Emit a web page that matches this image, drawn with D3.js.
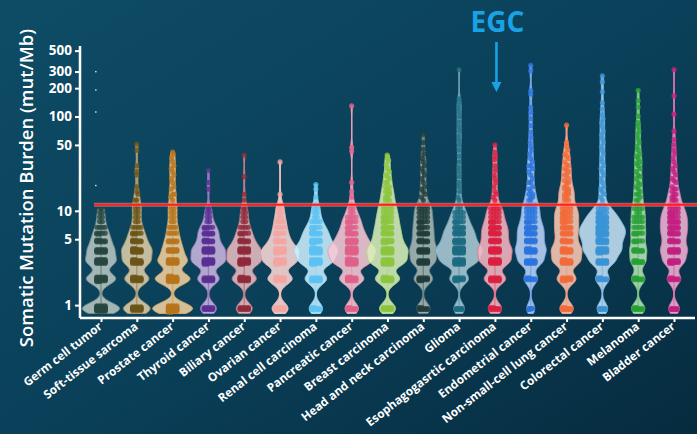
<!DOCTYPE html>
<html>
<head>
<meta charset="utf-8">
<script src="https://cdn.jsdelivr.net/npm/d3@7"></script>
<style>
html, body { margin: 0; padding: 0; background: #073a52; }
svg { display: block; font-family: "Open Sans", sans-serif; }
</style>
</head>
<body>
<svg id="chart" width="697" height="434"></svg>
<script>
// cancer types, left to right
const categories = [
  "Germ cell tumor", "Soft-tissue sarcoma", "Prostate cancer", "Thyroid cancer",
  "Biliary cancer", "Ovarian cancer", "Renal cell carcinoma", "Pancreatic cancer",
  "Breast carcinoma", "Head and neck carcinoma", "Glioma", "Esophagogasrtic carcinoma",
  "Endometrial cancer", "Non-small-cell lung cancer", "Colorectal cancer", "Melanoma", "Bladder cancer"
];
const pointColors = [
  "#27463f", "#6a5418", "#b7741c", "#5a2e92", "#8f2b3b", "#f2a6a2", "#5bc2f4", "#e0608a", "#8cc63f",
  "#213c3a", "#1b6b82", "#d91f40", "#2b74e0", "#f26a3a", "#3a94d6", "#25a035", "#c31f7f"
];
const fillColors = [
  "#b6c6c2", "#dccdaa", "#f0d0a0", "#c9b6df", "#e8bcc1", "#fad8d6", "#cbeefd", "#f7c8d5", "#d8eeb8",
  "#a9b8b6", "#abcad4", "#f4b6c2", "#b9d3f6", "#fbcab5", "#c5e0f4", "#bce2bb", "#edb6d5"
];

// discrete TMB levels (mut/Mb) for the low part of every distribution
const levels = [0.92, 1.9, 2.9, 3.8, 4.8, 5.8, 6.7, 7.7, 8.6, 9.6, 10.6, 11.5];

// number of samples at each level above, per cancer type
const lowCounts = [
  [28, 22, 20, 16, 10, 6, 4, 2, 2, 2, 2, 0],
  [20, 18, 18, 18, 10, 6, 4, 2, 2, 2, 2, 2],
  [30, 26, 20, 12, 8, 4, 4, 2, 2, 2, 2, 2],
  [12, 16, 22, 20, 10, 8, 6, 2, 2, 2, 2, 0],
  [12, 18, 22, 20, 10, 6, 4, 2, 2, 2, 2, 0],
  [12, 18, 22, 22, 10, 6, 4, 4, 2, 2, 2, 2],
  [10, 16, 22, 26, 14, 10, 6, 4, 2, 2, 2, 2],
  [10, 18, 26, 28, 16, 10, 6, 6, 4, 2, 2, 2],
  [12, 18, 24, 24, 14, 10, 8, 6, 6, 4, 4, 4],
  [10, 14, 16, 16, 10, 8, 6, 6, 4, 4, 4, 4],
  [8, 14, 24, 28, 16, 12, 8, 6, 4, 4, 2, 2],
  [10, 16, 20, 20, 12, 10, 8, 6, 4, 4, 4, 2],
  [6, 10, 16, 18, 12, 10, 8, 6, 4, 4, 4, 4],
  [10, 14, 18, 18, 10, 8, 8, 6, 6, 6, 4, 4],
  [8, 10, 16, 22, 18, 18, 14, 10, 8, 6, 4, 2],
  [10, 10, 10, 10, 6, 6, 4, 4, 4, 2, 4, 2],
  [8, 10, 14, 16, 10, 10, 8, 8, 6, 6, 4, 4]
];

// individual samples above 12 mut/Mb, per cancer type
const highValues = [
  [],
  [13, 13, 15, 16, 18, 24, 26, 30, 44, 51],
  [13, 14, 15, 15, 17, 18, 20, 22, 24, 26, 28, 30, 33, 36, 40, 42],
  [17, 20, 27],
  [13, 15, 23, 39],
  [15, 33],
  [14, 17, 19],
  [14, 16, 20, 43, 47, 130],
  [13, 13, 13, 14, 14, 15, 15, 16, 16, 17, 18, 18, 20, 20, 22, 23, 24, 26, 28, 31, 34, 36, 39],
  [13, 14, 15, 16, 17, 18, 20, 22, 24, 26, 28, 30, 33, 36, 40, 45, 53, 65],
  [13, 14, 16, 18, 20, 23, 26, 29, 33, 38, 44, 50, 56, 62, 70, 78, 88, 100, 112, 125, 140, 154, 315],
  [13, 14, 15, 16, 18, 20, 22, 24, 27, 30, 35, 38, 42, 50],
  [13, 13, 14, 14, 15, 15, 16, 17, 18, 20, 20, 22, 24, 26, 28, 30, 30, 33, 36, 40, 44, 48, 53, 60, 68, 80, 95, 110, 125, 173, 187, 305, 350],
  [13, 13, 13, 14, 14, 15, 15, 15, 16, 16, 17, 17, 18, 18, 20, 20, 21, 22, 24, 24, 26, 27, 28, 30, 31, 33, 36, 38, 40, 44, 48, 53, 81],
  [13, 14, 15, 16, 17, 18, 20, 22, 24, 26, 28, 30, 33, 36, 40, 44, 48, 53, 58, 64, 70, 78, 86, 95, 105, 120, 140, 183, 233, 270],
  [13, 13, 14, 15, 15, 16, 17, 18, 19, 20, 22, 23, 24, 26, 28, 30, 32, 33, 36, 38, 40, 44, 48, 53, 58, 64, 70, 78, 86, 101, 126, 147, 190],
  [13, 13, 13, 14, 14, 15, 15, 16, 17, 17, 18, 20, 21, 22, 24, 26, 28, 30, 33, 36, 40, 44, 50, 57, 70, 106, 166, 315]
];

const yTicks = [1, 5, 10, 50, 100, 200, 300, 500];
const thresholdValue = 11.6;
const strayMarks = [300, 192, 112, 18.6];

const svg = d3.select("#chart");
const W = 697, H = 434;

// background
const defs = svg.append("defs");
const grad = defs.append("linearGradient").attr("id", "bg")
  .attr("x1", "0").attr("y1", "0").attr("x2", "1").attr("y2", "1");
grad.append("stop").attr("offset", "0%").attr("stop-color", "#0e4c66");
grad.append("stop").attr("offset", "55%").attr("stop-color", "#0a3f58");
grad.append("stop").attr("offset", "100%").attr("stop-color", "#062b3f");
svg.append("rect").attr("width", W).attr("height", H).attr("fill", "url(#bg)");

const x = d3.scalePoint().domain(categories).range([101, 674]);
const y = d3.scaleLog().domain([0.73, 560]).range([318, 46]);

// violins (gaussian kernel on log10 values, common count scaling)
const bw = 0.06, K = 0.1;
const gauss = t => Math.exp(-0.5 * t * t) / (bw * Math.sqrt(2 * Math.PI));

categories.forEach((cat, i) => {
  const samples = levels.map((v, k) => ({ v, n: lowCounts[i][k] })).filter(d => d.n > 0)
    .concat(highValues[i].map(v => ({ v, n: 1 })));
  const logs = samples.map(d => ({ t: Math.log10(d.v), n: d.n }));
  const halfW = t => K * d3.sum(logs, d => d.n * gauss((t - d.t) / bw));
  const vMin = d3.min(samples, d => d.v), vMax = d3.max(samples, d => d.v);
  const tLo = Math.log10(y.invert(y(vMin) + 5)), tHi = Math.log10(vMax);
  const grid = d3.range(tLo, tHi, 0.004).concat([tHi]).map(t => ({ t, w: halfW(t) }));
  const cx = x(cat);
  const stroke = d3.interpolateRgb(fillColors[i], pointColors[i])(0.45);
  const g = svg.append("g");

  const area = d3.area()
    .y(d => y(Math.pow(10, d.t)))
    .x0(d => cx - d.w)
    .x1(d => cx + d.w)
    .curve(d3.curveBasis);
  g.append("path").datum(grid).attr("d", area)
    .attr("fill", fillColors[i]).attr("fill-opacity", 0.88)
    .attr("stroke", stroke).attr("stroke-width", 1);

  g.append("line").attr("x1", cx).attr("x2", cx)
    .attr("y1", y(vMin)).attr("y2", y(vMax))
    .attr("stroke", stroke).attr("stroke-width", 1.4);

  // points: stacked blobs at each level, single dots in the tail
  const pts = [];
  levels.forEach((v, k) => {
    const n = lowCounts[i][k];
    const cols = Math.min(4, n);
    const lim = Math.max(0, halfW(Math.log10(v)) - 2.5);
    for (let j = 0; j < n; j++) {
      const c = j % cols, r = Math.floor(j / cols);
      let dx = (c - (cols - 1) / 2) * 2.8;
      dx = Math.max(-lim, Math.min(lim, dx));
      const dy = (r % 2 ? 1 : -1) * Math.ceil(r / 2) * 0.9;
      pts.push({ x: cx + dx, y: y(v) + dy });
    }
  });
  highValues[i].forEach((v, j) => {
    const lim = Math.max(0, halfW(Math.log10(v)) - 1.5);
    const dx = Math.max(-lim, Math.min(lim, [0, -2, 2][j % 3]));
    pts.push({ x: cx + dx, y: y(v) });
  });
  g.selectAll("circle").data(pts).join("circle")
    .attr("cx", d => d.x).attr("cy", d => d.y).attr("r", 2.6)
    .attr("fill", pointColors[i]).attr("fill-opacity", 0.8);
});

// stray marks near the axis
svg.selectAll(".stray").data(strayMarks).join("rect").attr("class", "stray")
  .attr("x", x(categories[0]) - 6).attr("y", d => y(d) - 0.6)
  .attr("width", 1.6).attr("height", 1.4).attr("fill", "#cfd8dc");

// threshold line
svg.append("line").attr("x1", 94).attr("x2", 697)
  .attr("y1", y(thresholdValue)).attr("y2", y(thresholdValue))
  .attr("stroke", "#ff9a9a").attr("stroke-width", 4).attr("stroke-opacity", 0.55);
svg.append("line").attr("x1", 94).attr("x2", 697)
  .attr("y1", y(thresholdValue)).attr("y2", y(thresholdValue))
  .attr("stroke", "#ff1e1e").attr("stroke-width", 2);

// axes
const yAxis = svg.append("g").attr("transform", "translate(80,0)")
  .call(d3.axisLeft(y).tickValues(yTicks).tickFormat(d3.format("d")).tickSize(5).tickPadding(3));
yAxis.select(".domain").attr("d", `M0,${46}V${318}`);
const xAxis = svg.append("g").attr("transform", "translate(0,318)")
  .call(d3.axisBottom(x).tickSize(4).tickFormat(""));
xAxis.select(".domain").attr("d", "M80,0H695");
svg.selectAll(".domain").attr("stroke", "#fff").attr("stroke-width", 2.5);
svg.selectAll(".tick line").attr("stroke", "#fff").attr("stroke-width", 2);
yAxis.selectAll("text").attr("fill", "#fff").attr("font-size", 13.5).attr("font-weight", 700)
  .attr("font-family", "'Open Sans', sans-serif");

svg.append("g").selectAll("text").data(categories).join("text")
  .attr("transform", d => `translate(${x(d) + 2},${328}) rotate(-38)`)
  .attr("text-anchor", "end")
  .attr("fill", "#fff").attr("font-size", 11.8).attr("font-weight", 700)
  .text(d => d);

svg.append("text")
  .attr("transform", "translate(33,188) rotate(-90)")
  .attr("text-anchor", "middle")
  .attr("fill", "#fff").attr("font-size", 18.5).attr("font-weight", 600)
  .text("Somatic Mutation Burden (mut/Mb)");

// EGC annotation
const egcX = x("Esophagogasrtic carcinoma") + 1.5;
svg.append("text").attr("x", egcX + 1).attr("y", 32).attr("text-anchor", "middle")
  .attr("fill", "#19a2e6").attr("font-size", 28).attr("font-weight", 700).text("EGC");
svg.append("line").attr("x1", egcX).attr("x2", egcX).attr("y1", 42).attr("y2", 84)
  .attr("stroke", "#19a2e6").attr("stroke-width", 2.6);
svg.append("path").attr("d", `M${egcX - 5},82L${egcX + 5},82L${egcX},92Z`).attr("fill", "#19a2e6");
</script>
</body>
</html>
